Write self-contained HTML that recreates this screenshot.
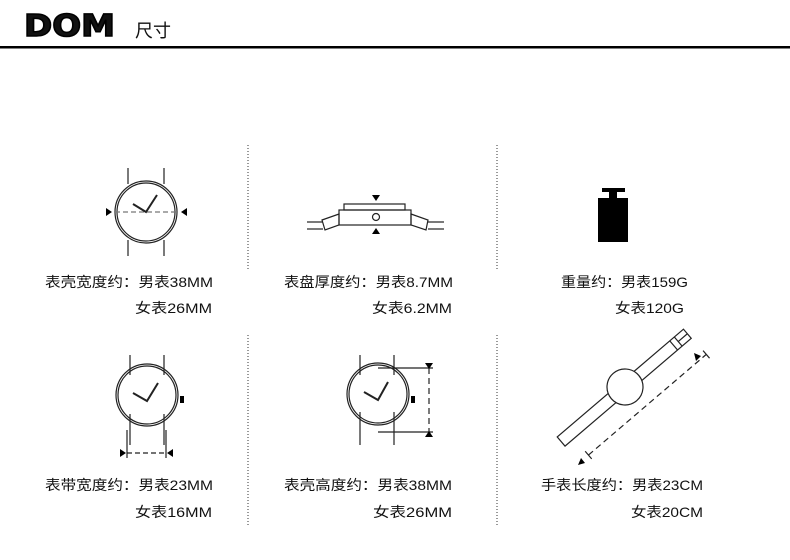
<!DOCTYPE html>
<html><head><meta charset="utf-8"><style>
body{margin:0;background:#fff;}
svg{display:block}
text{font-family:"Liberation Sans","Noto Sans CJK SC",sans-serif;font-size:14px;fill:#111}
</style></head><body>
<svg width="790" height="560" viewBox="0 0 790 560" xmlns="http://www.w3.org/2000/svg">
<text x="24" y="36" style="font-size:30px;font-weight:900;font-family:'DejaVu Sans','Liberation Sans',sans-serif;stroke:#000;stroke-width:1.5" textLength="91" lengthAdjust="spacingAndGlyphs">DOM</text>
<text x="135" y="37" style="font-size:18px">尺寸</text>
<rect x="0" y="46" width="790" height="2.5" fill="#000"/>
<g stroke="#999" stroke-width="2" stroke-dasharray="1 2">
<line x1="248" y1="145" x2="248" y2="270"/><line x1="248" y1="335" x2="248" y2="525"/>
<line x1="497" y1="145" x2="497" y2="270"/><line x1="497" y1="335" x2="497" y2="525"/>
</g>
<g fill="none" stroke="#222" stroke-width="1.2">
<line x1="128" y1="168" x2="128" y2="184"/><line x1="164" y1="168" x2="164" y2="184"/>
<line x1="128" y1="240" x2="128" y2="256"/><line x1="164" y1="240" x2="164" y2="256"/>
<circle cx="146" cy="212" r="31"/><circle cx="146" cy="212" r="29"/>
<line x1="115" y1="212" x2="177" y2="212" stroke="#777" stroke-dasharray="5 3"/>
<polyline points="133,204 146,212 157,195" stroke-width="2"/>
<rect x="344" y="204" width="61" height="6"/><rect x="339" y="210" width="72" height="15"/>
<circle cx="376" cy="217" r="3.5"/>
<line x1="307" y1="222" x2="323" y2="222"/><line x1="307" y1="229" x2="323" y2="229"/>
<polygon points="322,220 339,214 339,225 325,230"/>
<line x1="428" y1="222" x2="444" y2="222"/><line x1="428" y1="229" x2="444" y2="229"/>
<polygon points="411,214 428,220 426,230 411,225"/>
<line x1="130" y1="355" x2="130" y2="375"/><line x1="164" y1="355" x2="164" y2="375"/>
<line x1="130" y1="414" x2="130" y2="445"/><line x1="164" y1="414" x2="164" y2="445"/>
<line x1="127" y1="430" x2="127" y2="458"/><line x1="166" y1="430" x2="166" y2="458"/>
<line x1="127" y1="453" x2="166" y2="453" stroke-dasharray="5 3"/>
<circle cx="147" cy="395" r="31"/><circle cx="147" cy="395" r="29"/>
<polyline points="133,393 147,401 158,383" stroke-width="2"/>
<line x1="360" y1="355" x2="360" y2="375"/><line x1="394" y1="355" x2="394" y2="375"/>
<line x1="360" y1="412" x2="360" y2="445"/><line x1="394" y1="412" x2="394" y2="445"/>
<circle cx="378" cy="394" r="31"/><circle cx="378" cy="394" r="29"/>
<polyline points="364,392 378,400 388,382" stroke-width="2"/>
<line x1="378" y1="368" x2="433" y2="368"/><line x1="378" y1="432" x2="433" y2="432"/>
<line x1="429" y1="368" x2="429" y2="432" stroke-dasharray="6 4"/>
<g transform="translate(625,387) rotate(-40.5)">
<rect x="-84" y="-6" width="166" height="12" fill="#fff"/>
<line x1="64" y1="-6" x2="64" y2="6"/><line x1="70" y1="-6" x2="70" y2="6"/><line x1="70" y1="0" x2="82" y2="0"/>
<circle cx="0" cy="0" r="18" fill="#fff"/>
<line x1="-72" y1="28" x2="83" y2="28" stroke-dasharray="6 4"/>
<line x1="-72" y1="23" x2="-72" y2="33"/><line x1="83" y1="23" x2="83" y2="33"/>
</g>
</g>
<g fill="#000">
<polygon points="106,208 106,216 112,212"/><polygon points="187,208 187,216 181,212"/>
<polygon points="372,195 380,195 376,201"/><polygon points="372,234 380,234 376,228"/>
<polygon points="120,449 120,457 126,453"/><polygon points="173,449 173,457 167,453"/>
<polygon points="425,363 433,363 429,369"/><polygon points="425,437 433,437 429,431"/>
<rect x="180" y="396" width="4" height="7"/><rect x="411" y="396" width="4" height="7"/>
<rect x="602" y="188" width="23" height="4"/><rect x="609" y="192" width="8" height="6"/>
<rect x="598" y="198" width="30" height="44"/>
<polygon points="694,353 701,356 696,361"/><polygon points="578,465 581,458 585,463"/>
</g>
<text x="45" y="287" textLength="168" lengthAdjust="spacingAndGlyphs">表壳宽度约：男表38MM</text>
<text x="135" y="313" textLength="77" lengthAdjust="spacingAndGlyphs">女表26MM</text>
<text x="284" y="287" textLength="169" lengthAdjust="spacingAndGlyphs">表盘厚度约：男表8.7MM</text>
<text x="372" y="313" textLength="80" lengthAdjust="spacingAndGlyphs">女表6.2MM</text>
<text x="561" y="287" textLength="127" lengthAdjust="spacingAndGlyphs">重量约：男表159G</text>
<text x="615" y="313" textLength="69" lengthAdjust="spacingAndGlyphs">女表120G</text>
<text x="45" y="490" textLength="168" lengthAdjust="spacingAndGlyphs">表带宽度约：男表23MM</text>
<text x="135" y="517" textLength="77" lengthAdjust="spacingAndGlyphs">女表16MM</text>
<text x="284" y="490" textLength="168" lengthAdjust="spacingAndGlyphs">表壳高度约：男表38MM</text>
<text x="373" y="517" textLength="79" lengthAdjust="spacingAndGlyphs">女表26MM</text>
<text x="541" y="490" textLength="162" lengthAdjust="spacingAndGlyphs">手表长度约：男表23CM</text>
<text x="631" y="517" textLength="72" lengthAdjust="spacingAndGlyphs">女表20CM</text>
</svg>
</body></html>
